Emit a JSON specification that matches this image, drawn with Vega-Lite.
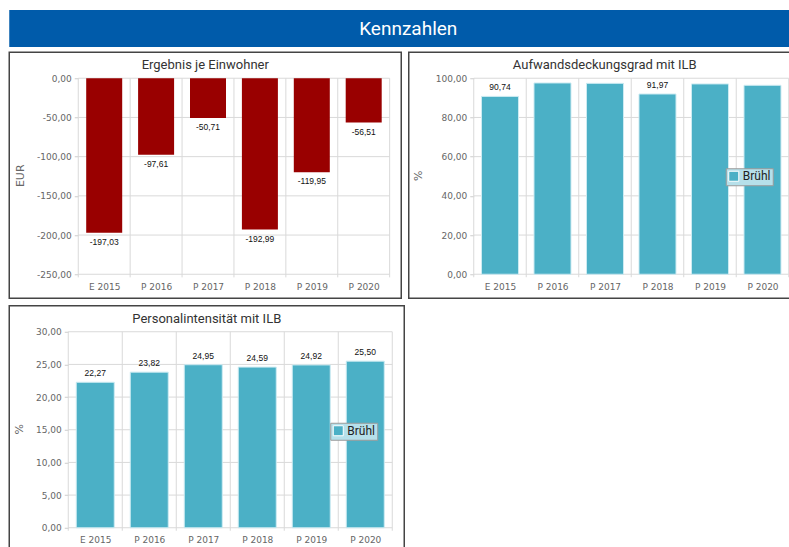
{
  "$schema": "https://vega.github.io/schema/vega-lite/v6.json",
  "background": "white",
  "padding": {"left": 8.25, "top": 10, "right": 0, "bottom": 0},
  "datasets": {
    "header": [{"t": "Kennzahlen"}],
    "ergebnis": [
      {"Jahr": "E 2015", "Wert": -197.03},
      {"Jahr": "P 2016", "Wert": -97.61},
      {"Jahr": "P 2017", "Wert": -50.71},
      {"Jahr": "P 2018", "Wert": -192.99},
      {"Jahr": "P 2019", "Wert": -119.95},
      {"Jahr": "P 2020", "Wert": -56.51}
    ],
    "aufwand": [
      {"Jahr": "E 2015", "Wert": 90.74},
      {"Jahr": "P 2016", "Wert": 97.6},
      {"Jahr": "P 2017", "Wert": 97.4},
      {"Jahr": "P 2018", "Wert": 91.97},
      {"Jahr": "P 2019", "Wert": 97.1},
      {"Jahr": "P 2020", "Wert": 96.4}
    ],
    "personal": [
      {"Jahr": "E 2015", "Wert": 22.27},
      {"Jahr": "P 2016", "Wert": 23.82},
      {"Jahr": "P 2017", "Wert": 24.95},
      {"Jahr": "P 2018", "Wert": 24.59},
      {"Jahr": "P 2019", "Wert": 24.92},
      {"Jahr": "P 2020", "Wert": 25.5}
    ],
    "bounds": [{"b": 0.5}, {"b": 1.5}, {"b": 2.5}, {"b": 3.5}, {"b": 4.5}, {"b": 5.5}, {"b": 6.5}],
    "grid1": [{"v": 0}, {"v": -50}, {"v": -100}, {"v": -150}, {"v": -200}, {"v": -250}],
    "grid2": [{"v": 0}, {"v": 20}, {"v": 40}, {"v": 60}, {"v": 80}, {"v": 100}],
    "grid3": [{"v": 0}, {"v": 5}, {"v": 10}, {"v": 15}, {"v": 20}, {"v": 25}, {"v": 30}]
  },
  "spacing": 4.25,
  "resolve": {"scale": {"color": "independent"}, "legend": {"color": "independent"}},
  "vconcat": [
    {
      "width": 790,
      "height": 37,
      "view": {"fill": "#005BAA", "stroke": null},
      "data": {"name": "header"},
      "mark": {"type": "text", "color": "white", "font": "Roboto", "fontSize": 19, "dx": 4},
      "encoding": {"text": {"field": "t", "type": "nominal"}}
    },
    {
      "spacing": 5.5,
      "resolve": {"scale": {"color": "independent"}, "legend": {"color": "independent"}},
      "vconcat": [
        {
          "spacing": 5.5,
          "resolve": {"scale": {"color": "independent"}, "legend": {"color": "independent"}},
          "hconcat": [
            {
              "width": 392,
              "height": 246,
              "view": {"stroke": "#444444", "strokeWidth": 1.5, "fill": "white"},
              "title": {"text": "Ergebnis je Einwohner", "offset": -20},
              "layer": [
                {
                  "data": {"name": "grid1"},
                  "mark": {"type": "rule", "color": "#d9d9d9", "strokeWidth": 1},
                  "encoding": {
                    "y": {"field": "v", "type": "quantitative",
                      "scale": {"domain": [-280.61, 33.16], "nice": false, "zero": false, "padding": 0},
                      "axis": {"title": "EUR", "values": [0, -50, -100, -150, -200, -250], "format": ".2f", "offset": -69,
                        "domain": false, "grid": false, "ticks": true, "tickSize": 4, "tickColor": "#cccccc",
                        "labelPadding": 3, "titleX": -58, "titleBaseline": "middle"}},
                    "x": {"datum": 0.5, "type": "quantitative",
                      "scale": {"domain": [-0.8295, 6.7235], "nice": false, "zero": false, "padding": 0},
                      "axis": {"title": null, "values": [1, 2, 3, 4, 5, 6],
                        "labelExpr": "['', 'E 2015', 'P 2016', 'P 2017', 'P 2018', 'P 2019', 'P 2020'][datum.value]",
                        "offset": -24, "domain": false, "ticks": false, "grid": false, "labelPadding": 8}},
                    "x2": {"datum": 6.5}
                  }
                },
                {
                  "data": {"name": "bounds"},
                  "mark": {"type": "rule", "color": "#d9d9d9", "strokeWidth": 1},
                  "encoding": {
                    "x": {"field": "b", "type": "quantitative"},
                    "y": {"datum": -254, "type": "quantitative"},
                    "y2": {"datum": 0}
                  }
                },
                {
                  "data": {"name": "ergebnis"},
                  "transform": [{"window": [{"op": "row_number", "as": "idx"}]}],
                  "layer": [
                    {
                      "mark": {"type": "bar", "width": 36, "color": "#990000"},
                      "encoding": {
                        "x": {"field": "idx", "type": "quantitative"},
                        "y": {"field": "Wert", "type": "quantitative"},
                        "y2": {"datum": 0}
                      }
                    },
                    {
                      "mark": {"type": "text", "dy": 9, "baseline": "middle", "align": "center", "font": "Liberation Sans", "fontSize": 8.5, "color": "#111111"},
                      "encoding": {
                        "x": {"field": "idx", "type": "quantitative"},
                        "y": {"field": "Wert", "type": "quantitative"},
                        "text": {"field": "Wert", "type": "quantitative", "format": ".2f"}
                      }
                    }
                  ]
                }
              ]
            },
            {
              "width": 392,
              "height": 246,
              "view": {"stroke": "#444444", "strokeWidth": 1.5, "fill": "white"},
              "title": {"text": "Aufwandsdeckungsgrad mit ILB", "offset": -20},
              "layer": [
                {
                  "data": {"name": "grid2"},
                  "mark": {"type": "rule", "color": "#d9d9d9", "strokeWidth": 1},
                  "encoding": {
                    "y": {"field": "v", "type": "quantitative",
                      "scale": {"domain": [-12.245, 113.265], "nice": false, "zero": false, "padding": 0},
                      "axis": {"title": "%", "values": [0, 20, 40, 60, 80, 100], "format": ".2f", "offset": -65,
                        "domain": false, "grid": false, "ticks": true, "tickSize": 4, "tickColor": "#cccccc",
                        "labelPadding": 3, "titleX": -55.5, "titleBaseline": "middle"}},
                    "x": {"datum": 0.5, "type": "quantitative",
                      "scale": {"domain": [-0.7381, 6.7286], "nice": false, "zero": false, "padding": 0},
                      "axis": {"title": null, "values": [1, 2, 3, 4, 5, 6],
                        "labelExpr": "['', 'E 2015', 'P 2016', 'P 2017', 'P 2018', 'P 2019', 'P 2020'][datum.value]",
                        "offset": -24, "domain": false, "ticks": false, "grid": false, "labelPadding": 8}},
                    "x2": {"datum": 6.5}
                  }
                },
                {
                  "data": {"name": "bounds"},
                  "mark": {"type": "rule", "color": "#d9d9d9", "strokeWidth": 1},
                  "encoding": {
                    "x": {"field": "b", "type": "quantitative"},
                    "y": {"datum": -1.53, "type": "quantitative"},
                    "y2": {"datum": 100}
                  }
                },
                {
                  "data": {"name": "aufwand"},
                  "transform": [{"window": [{"op": "row_number", "as": "idx"}]}],
                  "layer": [
                    {
                      "mark": {"type": "bar", "width": 37, "stroke": "#cdebf2", "strokeWidth": 1},
                      "encoding": {
                        "x": {"field": "idx", "type": "quantitative"},
                        "y": {"field": "Wert", "type": "quantitative"},
                        "y2": {"datum": 0},
                        "color": {"datum": "Brühl", "type": "nominal",
                          "scale": {"range": ["#4BB0C6"]},
                          "legend": {"orient": "none", "legendX": 317, "legendY": 116, "title": null,
                            "fillColor": "#B6E0EA", "strokeColor": "#9a9a9a", "padding": 2,
                            "symbolType": "square", "symbolSize": 100, "symbolStrokeColor": "#ffffff", "symbolStrokeWidth": 1,
                            "labelFont": "Roboto", "labelFontSize": 12, "labelColor": "#222222", "labelOffset": 3}}
                      }
                    },
                    {
                      "transform": [{"filter": "datum.Wert < 95"}],
                      "mark": {"type": "text", "dy": -9, "baseline": "middle", "align": "center", "font": "Liberation Sans", "fontSize": 8.5, "color": "#111111"},
                      "encoding": {
                        "x": {"field": "idx", "type": "quantitative"},
                        "y": {"field": "Wert", "type": "quantitative"},
                        "text": {"field": "Wert", "type": "quantitative", "format": ".2f"}
                      }
                    }
                  ]
                }
              ]
            }
          ]
        },
        {
          "width": 395,
          "height": 246,
          "view": {"stroke": "#444444", "strokeWidth": 1.5, "fill": "white"},
          "title": {"text": "Personalintensität mit ILB", "offset": -20},
          "layer": [
            {
              "data": {"name": "grid3"},
              "mark": {"type": "rule", "color": "#d9d9d9", "strokeWidth": 1},
              "encoding": {
                "y": {"field": "v", "type": "quantitative",
                  "scale": {"domain": [-3.6735, 33.98], "nice": false, "zero": false, "padding": 0},
                  "axis": {"title": "%", "values": [0, 5, 10, 15, 20, 25, 30], "format": ".2f", "offset": -59,
                    "domain": false, "grid": false, "ticks": true, "tickSize": 4, "tickColor": "#cccccc",
                    "labelPadding": 3, "titleX": -49, "titleBaseline": "middle"}},
                "x": {"datum": 0.5, "type": "quantitative",
                  "scale": {"domain": [-0.5926, 6.7222], "nice": false, "zero": false, "padding": 0},
                  "axis": {"title": null, "values": [1, 2, 3, 4, 5, 6],
                    "labelExpr": "['', 'E 2015', 'P 2016', 'P 2017', 'P 2018', 'P 2019', 'P 2020'][datum.value]",
                    "offset": -24, "domain": false, "ticks": false, "grid": false, "labelPadding": 8}},
                "x2": {"datum": 6.5}
              }
            },
            {
              "data": {"name": "bounds"},
              "mark": {"type": "rule", "color": "#d9d9d9", "strokeWidth": 1},
              "encoding": {
                "x": {"field": "b", "type": "quantitative"},
                "y": {"datum": -0.46, "type": "quantitative"},
                "y2": {"datum": 30}
              }
            },
            {
              "data": {"name": "personal"},
              "transform": [{"window": [{"op": "row_number", "as": "idx"}]}],
              "layer": [
                {
                  "mark": {"type": "bar", "width": 38, "stroke": "#cdebf2", "strokeWidth": 1},
                  "encoding": {
                    "x": {"field": "idx", "type": "quantitative"},
                    "y": {"field": "Wert", "type": "quantitative"},
                    "y2": {"datum": 0},
                    "color": {"datum": "Brühl", "type": "nominal",
                      "scale": {"range": ["#4BB0C6"]},
                      "legend": {"orient": "none", "legendX": 321, "legendY": 117, "title": null,
                        "fillColor": "#B6E0EA", "strokeColor": "#9a9a9a", "padding": 2,
                        "symbolType": "square", "symbolSize": 100, "symbolStrokeColor": "#ffffff", "symbolStrokeWidth": 1,
                        "labelFont": "Roboto", "labelFontSize": 12, "labelColor": "#222222", "labelOffset": 3}}
                  }
                },
                {
                  "mark": {"type": "text", "dy": -9, "baseline": "middle", "align": "center", "font": "Liberation Sans", "fontSize": 8.5, "color": "#111111"},
                  "encoding": {
                    "x": {"field": "idx", "type": "quantitative"},
                    "y": {"field": "Wert", "type": "quantitative"},
                    "text": {"field": "Wert", "type": "quantitative", "format": ".2f"}
                  }
                }
              ]
            }
          ]
        }
      ]
    }
  ],
  "config": {
    "locale": {"number": {"decimal": ",", "thousands": ".", "grouping": [3], "currency": ["", " €"], "minus": "-"}},
    "axis": {"labelFont": "DejaVu Sans", "labelFontSize": 9, "labelColor": "#666666", "titleFont": "DejaVu Sans", "titleFontSize": 11, "titleFontWeight": "normal", "titleColor": "#666666"},
    "title": {"font": "Roboto", "fontSize": 13, "fontWeight": "normal", "color": "#333333"}
  }
}
